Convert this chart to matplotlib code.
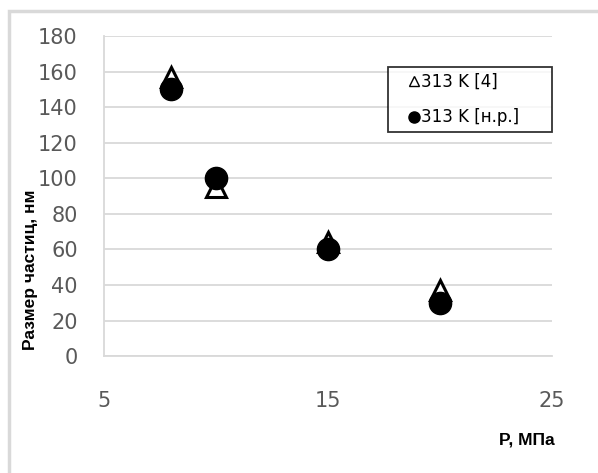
import matplotlib.pyplot as plt
from matplotlib.lines import Line2D
from matplotlib.patches import Rectangle

# данные
p_lit = [8, 10, 15, 20]
size_lit = [157, 95, 64, 37]
p_nr = [8, 10, 15, 20]
size_nr = [150, 100, 60, 30]
label_lit = "313 K [4]"
label_nr = "313 K [н.р.]"

plt.rcParams['font.family'] = ['DejaVu Sans']

fig = plt.figure(figsize=(5.98, 4.73), dpi=100)
ax = fig.add_axes([0.174, 0.247, 0.749, 0.677])

# рамка вокруг диаграммы
fig.patches.append(Rectangle((9 / 598, -0.1), 1.2, 1 - 11 / 473 + 0.1,
                             transform=fig.transFigure, fill=False,
                             edgecolor='#d9d9d9', linewidth=2.5))

ax.plot(p_lit, size_lit, linestyle='none', marker='^', markersize=15,
        markerfacecolor='white', markeredgecolor='black', markeredgewidth=2.2, zorder=3)
ax.plot(p_nr, size_nr, linestyle='none', marker='o', markersize=16,
        color='black', zorder=4)

ax.set_xlim(5, 25)
ax.set_ylim(0, 180)
ax.set_xticks([5, 15, 25])
ax.set_yticks(range(0, 181, 20))
ax.tick_params(length=0, labelsize=15, labelcolor='#595959')
ax.tick_params(axis='y', pad=19)
ax.tick_params(axis='x', pad=25)

ax.grid(axis='y', color='#d9d9d9', linewidth=1.3)
ax.set_axisbelow(True)
for s in ['top', 'right']:
    ax.spines[s].set_visible(False)
ax.spines['left'].set_color('#d9d9d9')
ax.spines['bottom'].set_color('#d9d9d9')
ax.spines['left'].set_linewidth(1.3)
ax.spines['bottom'].set_linewidth(1.3)

fig.text(31 / 598, 1 - 270 / 473, "Размер частиц, нм", rotation=90,
         ha='center', va='center', fontsize=12.5, fontweight='bold',
         family=['Liberation Sans'])
fig.text(527 / 598, 1 - 440 / 473, "P, МПа", ha='center', va='center',
         fontsize=12.5, fontweight='bold', family=['Liberation Sans'])

handles = [
    Line2D([], [], linestyle='none', marker='^', markersize=7,
           markerfacecolor='white', markeredgecolor='black', markeredgewidth=1),
    Line2D([], [], linestyle='none', marker='o', markersize=8, color='black'),
]
leg_w = (552 - 388) / 448
leg = ax.legend(handles, [label_lit, label_nr], loc='upper left',
                bbox_to_anchor=(0.634, 0.5, leg_w, 0.403), mode='expand',
                borderaxespad=0, fontsize=12, frameon=True, fancybox=False,
                handlelength=2.4, handletextpad=-0.8, labelspacing=1.05,
                borderpad=0.35)
leg.get_frame().set_edgecolor('black')
leg.get_frame().set_linewidth(1.3)

fig.savefig('out.png', dpi=100)
